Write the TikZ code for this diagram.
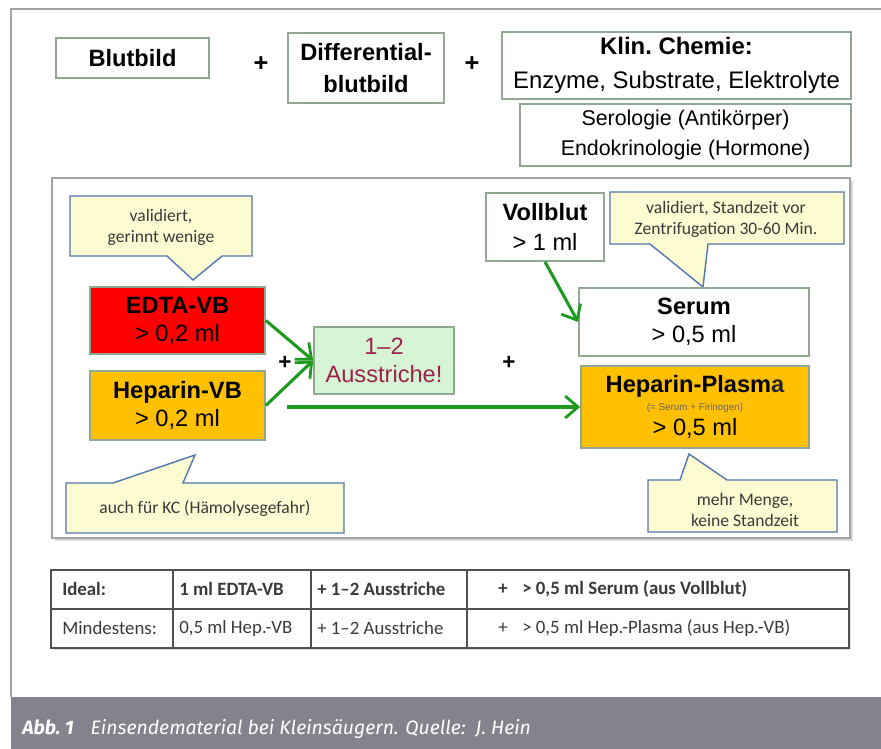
\documentclass[tikz,border=0pt]{standalone}
\usepackage{fontspec}
\setmainfont{Liberation Sans}
\newfontfamily\calfont[Ligatures=TeX]{Carlito}
\newfontfamily\capfont{Fira Sans}
\usetikzlibrary{arrows.meta}
\definecolor{cframe}{HTML}{A3A3A3}
\definecolor{cbox}{HTML}{8FA88F}
\definecolor{cred}{HTML}{FF0000}
\definecolor{corange}{HTML}{FFC000}
\definecolor{cmint}{HTML}{D5F5D5}
\definecolor{cwine}{HTML}{A0214D}
\definecolor{cnote}{HTML}{FCFBD2}
\definecolor{cnoteline}{HTML}{5276B0}
\definecolor{carrow}{HTML}{1E9B1E}
\definecolor{ccap}{HTML}{86828D}
\definecolor{ctext}{HTML}{3A3A3A}
\definecolor{cgrid}{HTML}{505050}
\tikzset{
  box/.style={draw=cbox, fill=#1, line width=1.2pt, align=center, inner sep=2pt},
  box/.default=white,
  toptext/.style={font=\fontsize{16.8}{23}\selectfont},
  midtext/.style={font=\fontsize{16.8}{20}\selectfont},
  note/.style={draw=cnoteline, fill=cnote, line width=1pt, line join=miter},
  notetext/.style={font=\calfont\fontsize{12.5}{15}\selectfont, text=ctext, align=center},
  cell/.style={font=\calfont\fontsize{13.4}{16}\selectfont, text=ctext, anchor=west, inner sep=0pt},
  arrow/.style={-{Straight Barb[length=3.2mm, width=5.5mm, line width=2pt]}, draw=carrow, line width=2.2pt},
  plus/.style={font=\fontsize{18}{18}\selectfont\bfseries, inner sep=0pt},
}

\begin{document}
\begin{tikzpicture}[x=0.025cm, y=-0.025cm]
  \useasboundingbox (0,0) rectangle (881,749);
  % page frame and caption
  \draw[cframe, line width=0.8pt] (881,9) -- (11,9) -- (11,697);
  \fill[ccap] (11,697) rectangle (881,749);
  \node[anchor=west, inner sep=0pt, text=white, font=\capfont\fontsize{13.8}{16}\selectfont] (caption) at (22,729)
    {{\bfseries\itshape Abb.~1}\hspace{12pt}{\itshape Einsendematerial bei Kleinsäugern. Quelle:\ \ J. Hein}};

  % top row
  \node[box, toptext, minimum width=3.825cm, minimum height=1cm] (blutbild) at (132.5,58) {\bfseries Blutbild};
  \node[plus] (plusa) at (261,64) {+};
  \node[box, toptext, minimum width=3.9cm, minimum height=1.75cm] (diff) at (366,68) {\bfseries Differential-\\\bfseries blutbild};
  \node[plus] (plusb) at (472,64) {+};
  \node[box, minimum width=8.725cm, minimum height=1.675cm, font=\fontsize{17}{24}\selectfont] (klin) at (676.5,65.5)
    {\bfseries Klin.\ Chemie:\\Enzyme, Substrate, Elektrolyte};
  \node[box, minimum width=8.275cm, minimum height=1.55cm, font=\fontsize{15.2}{21.3}\selectfont] (sero) at (685.5,135)
    {Serologie (Antikörper)\\Endokrinologie (Hormone)};

  % panel
  \fill[black!15] (55,181) rectangle (853,541);
  \draw[cframe, fill=white, line width=0.8pt] (52,178) rectangle (850,538);

  % left side
  \draw[note] (70,196) -- (252,196) -- (252,256) -- (222,256) -- (193,280) -- (167,256) -- (70,256) -- cycle;
  \node[notetext] (gerinnt) at (161,227) {validiert,\\gerinnt wenige};
  \node[box=cred, midtext, minimum width=4.375cm, minimum height=1.675cm] (edta) at (177.5,320.5)
    {\bfseries EDTA-VB\\> 0,2 ml};
  \node[box=corange, midtext, minimum width=4.375cm, minimum height=1.725cm] (hepvb) at (177.5,405.5)
    {\bfseries Heparin-VB\\> 0,2 ml};
  \node[plus, font=\fontsize{16}{16}\selectfont\bfseries] (plusc) at (285,363) {+};
  \node[box=cmint, midtext, text=cwine, minimum width=3.5cm, minimum height=1.675cm] (ausstr) at (384,360.5)
    {1–2\\Ausstriche!};
  \draw[note] (66,483) -- (113,483) -- (195,455) -- (183,483) -- (344,483) -- (344,533) -- (66,533) -- cycle;
  \node[notetext] (haemo) at (205,509) {auch für KC (Hämolysegefahr)};

  % right side
  \node[box, midtext, minimum width=2.95cm, minimum height=1.7cm] (vollblut) at (545,227)
    {\bfseries Vollblut\\[1.5pt]> 1 ml};
  \draw[note] (610,192) -- (844,192) -- (844,244) -- (708,244) -- (703,287) -- (650,244) -- (610,244) -- cycle;
  \node[notetext] (standzeit) at (726,219) {validiert, Standzeit vor\\Zentrifugation 30-60 Min.};
  \node[plus, font=\fontsize{16}{16}\selectfont\bfseries] (plusd) at (509,363) {+};
  \node[box, midtext, minimum width=5.75cm, minimum height=1.7cm] (serum) at (694,322)
    {\bfseries Serum\\> 0,5 ml};
  \node[box=corange, midtext, minimum width=5.7cm, minimum height=2.05cm] (hplasma) at (695,407)
    {\bfseries Heparin-Plasm{\color{black!85}a}\\[-7pt]{\fontsize{7}{8}\selectfont\color{black!60}(= Serum + Firinogen)}\\[-2.6pt]> 0,5 ml};
  \draw[note] (648,480) -- (680,480) -- (689,454) -- (727,480) -- (837,480) -- (837,532) -- (648,532) -- cycle;
  \node[notetext] (menge) at (745,510) {mehr Menge,\\keine Standzeit};

  % connectors
  \coordinate (hepstart) at (287,407);
  \draw[arrow] (edta.east) -- (ausstr.west);
  \draw[arrow] (hepvb.east) -- (ausstr.west);
  \draw[arrow] (hepstart) -- (hplasma.west);
  \draw[arrow] (vollblut.south) -- (serum.west);

  % table
  \fill[black!12] (53,572) rectangle (851,650);
  \draw[cgrid, fill=white, line width=1.2pt] (51,570) rectangle (849,648);
  \draw[cgrid, line width=1.2pt] (51,609) -- (849,609);
  \draw[cgrid, line width=1.2pt] (173,570) -- (173,648) (311,570) -- (311,648) (467,570) -- (467,648);
  \node[cell] (ideal) at (62,589) {\bfseries Ideal:};
  \node[cell] (edtaml) at (179,589) {\bfseries 1 ml EDTA-VB};
  \node[cell] (ausa) at (317,589) {\bfseries + 1–2 Ausstriche};
  \node[cell] (plusserum) at (498,589) {\bfseries +};
  \node[cell] (serumml) at (522,589) {\bfseries > 0,5 ml Serum (aus Vollblut)};
  \node[cell] (mindest) at (62,628) {Mindestens:};
  \node[cell] (hepml) at (179,628) {0,5 ml Hep.-VB};
  \node[cell] (ausb) at (317,628) {+ 1–2 Ausstriche};
  \node[cell] (plusplasma) at (498,628) {+};
  \node[cell] (plasmaml) at (522,628) {> 0,5 ml Hep.-Plasma (aus Hep.-VB)};
\end{tikzpicture}
\end{document}
